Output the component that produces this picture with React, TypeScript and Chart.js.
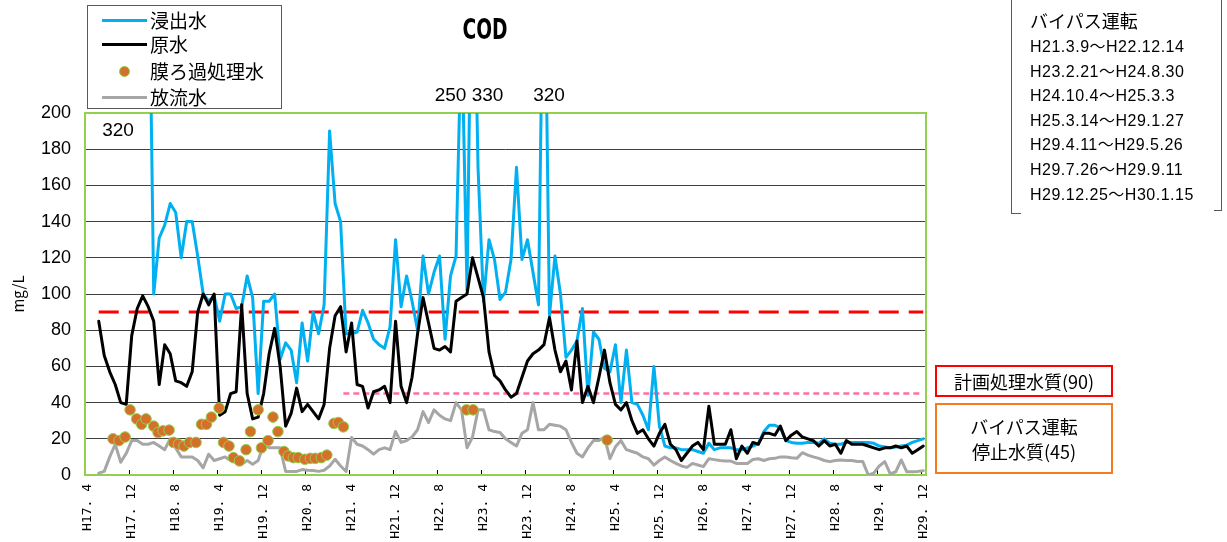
import React, { useEffect, useRef } from "react";
import { Chart, registerables } from "chart.js";

Chart.register(...registerables);

// ---------------- data ----------------
// x tick labels (one every 8 months, monthly axis from H17.4 to H29.12)
const tickLabels = [
  "H17. 4", "H17. 12", "H18. 8", "H19. 4", "H19. 12", "H20. 8", "H21. 4",
  "H21. 12", "H22. 8", "H23. 4", "H23. 12", "H24. 8", "H25. 4", "H25. 12",
  "H26. 8", "H27. 4", "H27. 12", "H28. 8", "H29. 4", "H29. 12",
];
const LABEL_STEP = 8;

// 浸出水 (monthly, index 0 = H17.4)
const leachate: (number | null)[] = [
  null, null, null, null, null, null, null, null, null, null,
  null, 320, 100, 131, 138, 150, 145, 120, 140, 140,
  121, 100, 96, 99, 85, 100, 100, 92, 93, 110,
  98, 45, 96, 96, 100, 64, 73, 69, 51, 84,
  63, 90, 78, 94, 190, 150, 140, 78, 78, 79,
  91, 84, 75, 72, 70, 82, 130, 93, 110, 96,
  80, 121, 100, 112, 121, 75, 110, 121, 250, 102,
  330, 170, 96, 130, 119, 97, 101, 119, 170, 119,
  130, 112, 94, 320, 88, 121, 100, 65, 69, 74,
  92, 44, 79, 75, 59, 57, 72, 40, 69, 40,
  39, 33, 25, 60, 27, 16, 15, 15, 14, 14,
  14, 13, 12, 17.5, 14, 15, 15, 15, 14, 14,
  15, 16, 17.5, 24, 27.5, 27.5, 26, 19, 18, 17.5,
  17.5, 18, 18, 17.5, 20, 17.5, 17, 17, 18, 18,
  18, 18, 18, 17.5, 16, 15.5, 15, 15.5, 16, 16.5,
  18, 19, 20,
];

// 原水
const raw: (number | null)[] = [
  null, null, 85, 66, 57, 50, 40, 39, 77, 92,
  99, 93, 85, 50, 72, 67, 52, 51, 49, 57,
  90, 100, 94, 100, 33, 35, 45, 46, 94, 45,
  31, 32, 45, 67, 81, 60, 27, 34, 48, 35,
  39, 35, 31, 39, 70, 88, 93, 68, 84, 50,
  49, 37, 46, 47, 49, 40, 85, 49, 40, 54,
  78, 98, 84, 70, 69, 71, 68, 96, 98, 100,
  120, 109, 98, 68, 55, 52, 47, 43, 45, 54,
  63, 67, 69, 72, 87, 69, 57, 63, 47, 74,
  40, 49, 40, 54, 69, 51, 39, 36, 40, 30,
  23, 25, 20, 16, 23, 28, 17, 14, 8, 12,
  16, 18, 14, 38, 17, 17, 17, 25, 9, 16,
  12, 18, 17, 23, 23, 22, 27, 19, 22, 24,
  21, 20, 19, 16, 19, 16, 17, 12, 19, 17,
  17, 17, 16, 15, 14, 15, 15, 16, 15, 16,
  12, 14, 16,
];

// 放流水
const discharge: (number | null)[] = [
  null, null, 1, 2, 10, 17, 7, 12, 19, 19,
  17, 17, 18, 16, 14, 20, 15, 10, 10, 10,
  8, 4, 11.5, 8, 9, 10, 8, 7, 6, 8,
  6, 8, 17, 15, 15, 15, 2, 2, 2, 3,
  2.6, 2.5, 2, 2.6, 5, 8.7, 5, 2, 20.7, 17,
  16, 14, 11.5, 14, 15, 14, 24, 18, 19, 21,
  25, 35, 29, 36, 33, 31, 30, 40, 36, 15,
  21, 36, 36, 25, 24, 23.5, 20, 18, 16, 23,
  25, 40, 25, 25, 28, 27.5, 27, 25, 18, 12,
  10, 15, 19, 19, 21, 9, 15.6, 19, 14, 13,
  12, 10, 9, 5.5, 8, 10, 8, 6.4, 5, 4.2,
  6.4, 5.5, 4.6, 9, 8.5, 8, 7.8, 7.7, 6.4, 6.4,
  6.4, 8.6, 9, 8, 9, 9.2, 10, 10, 9.5, 9.2,
  12.3, 11, 10, 9.2, 8, 7.4, 8, 8.3, 8, 8,
  7.5, 7.4, 0, 1, 5, 7.4, 0.6, 1.8, 8.3, 1.8,
  1.8, 2, 2.4,
];

// 膜ろ過処理水 (sampled points: month position and value)
const membraneMonth = [
  4.6, 5.7, 6.8, 7.7, 8.9, 9.8, 10.6, 12.0, 12.8, 13.7,
  14.8, 15.6, 16.5, 17.5, 18.5, 19.7, 20.7, 21.6, 22.5, 23.9,
  24.7, 25.7, 26.5, 27.6, 28.8, 29.6, 31.0, 31.6, 32.8, 33.7,
  34.6, 35.7, 36.5, 37.4, 38.3, 39.5, 40.5, 41.4, 42.5, 43.5,
  44.8, 45.6, 46.5, 68.9, 70.1, 94.5,
];
const membraneValue = [
  20, 19, 21, 36, 31, 28, 31, 27, 23.5, 24.4,
  24.8, 18, 17, 16, 18, 18, 28, 28, 32, 37,
  18, 16, 9.6, 7.8, 14, 24, 36, 15, 19, 32,
  24, 13, 10.5, 9.6, 9.6, 8.7, 9.2, 9.2, 9.6, 11,
  28.5, 29, 26.6, 36, 36, 19.3,
];

// reference levels
const planQualityLevel = 90; // 計画処理水質
const planQualitySpan = [2, 152];
const bypassStopLevel = 45; // バイパス運転停止水質
const bypassStopSpan = [46.5, 152];

// clipped peak values
const clippedPeakLeft = "320";
const clippedPeakMid = "250 330";
const clippedPeakRight = "320";

const bypassPeriods = [
  "H21.3.9～H22.12.14",
  "H23.2.21～H24.8.30",
  "H24.10.4～H25.3.3",
  "H25.3.14～H29.1.27",
  "H29.4.11～H29.5.26",
  "H29.7.26～H29.9.11",
  "H29.12.25～H30.1.15",
];

// ---------------- colours ----------------
const BLUE = "#00B0F0";
const BLACK = "#000000";
const GRAY = "#A6A6A6";
const DOT = "#D4702A";
const DOT_EDGE = "#92D050";
const FRAME = "#92D050";

const JP = "'Noto Sans CJK JP', 'Noto Sans', sans-serif";
const LAT = "'Liberation Sans', 'Noto Sans CJK JP', sans-serif";

const framePlugin = {
  id: "frame",
  beforeDatasetsDraw(chart: any) {
    const { ctx, chartArea: a, scales } = chart;
    const x = scales.x;
    ctx.save();
    ctx.strokeStyle = "#000";
    ctx.lineWidth = 1;
    for (let k = 1; k < tickLabels.length; k++) {
      const px = Math.round(x.getPixelForValue(k * LABEL_STEP - 0.5)) + 0.5;
      ctx.beginPath();
      ctx.moveTo(px, a.bottom);
      ctx.lineTo(px, a.bottom - 5);
      ctx.stroke();
    }
    ctx.strokeStyle = FRAME;
    ctx.lineWidth = 2;
    ctx.strokeRect(a.left, a.top, a.right - a.left, a.bottom - a.top);
    ctx.restore();
  },
};

function Abs(props: { style: React.CSSProperties; children?: React.ReactNode }) {
  return <div style={{ position: "absolute", whiteSpace: "nowrap", ...props.style }}>{props.children}</div>;
}

export default function App() {
  const canvasRef = useRef<HTMLCanvasElement | null>(null);

  useEffect(() => {
    const canvas = canvasRef.current;
    if (!canvas) return;
    const pts = (arr: (number | null)[]) => arr.map((v, i) => ({ x: i, y: v }));
    const lineCommon = {
      pointRadius: 0,
      pointHoverRadius: 0,
      borderJoinStyle: "round" as const,
      borderCapStyle: "round" as const,
      tension: 0,
      fill: false,
    };
    const chart = new Chart(canvas, {
      type: "line",
      data: {
        datasets: [
          {
            label: "膜ろ過処理水",
            data: membraneMonth.map((m, i) => ({ x: m, y: membraneValue[i] })),
            showLine: false,
            pointRadius: 5.3,
            pointHoverRadius: 5.3,
            pointBackgroundColor: DOT,
            pointBorderColor: DOT_EDGE,
            pointBorderWidth: 1,
            borderColor: DOT,
            backgroundColor: DOT,
          },
          { label: "原水", data: pts(raw), borderColor: BLACK, borderWidth: 3, ...lineCommon },
          { label: "浸出水", data: pts(leachate), borderColor: BLUE, borderWidth: 3, ...lineCommon },
          { label: "放流水", data: pts(discharge), borderColor: GRAY, borderWidth: 3, ...lineCommon },
          {
            label: "バイパス運転停止水質",
            data: bypassStopSpan.map((m) => ({ x: m, y: bypassStopLevel })),
            borderColor: "#FF6FA0",
            borderWidth: 2.5,
            borderDash: [6, 4],
            ...lineCommon,
            borderCapStyle: "butt" as const,
          },
          {
            label: "計画処理水質",
            data: planQualitySpan.map((m) => ({ x: m, y: planQualityLevel })),
            borderColor: "#FF0000",
            borderWidth: 3,
            borderDash: [20, 10],
            ...lineCommon,
            borderCapStyle: "butt" as const,
          },
        ],
      },
      options: {
        responsive: true,
        maintainAspectRatio: false,
        animation: false,
        events: [],
        layout: { padding: { top: 113, right: 301, bottom: 0, left: 0 } },
        plugins: {
          legend: { display: false },
          title: { display: false },
          tooltip: { enabled: false },
        },
        scales: {
          x: {
            type: "linear",
            min: -0.5,
            max: leachate.length - 0.5,
            afterFit: (s: any) => {
              s.height = 67;
            },
            afterBuildTicks: (s: any) => {
              s.ticks = tickLabels.map((_, k) => ({ value: k * LABEL_STEP }));
            },
            grid: { display: false, drawTicks: false },
            border: { display: false },
            ticks: {
              autoSkip: false,
              maxRotation: 90,
              minRotation: 90,
              padding: 9,
              color: "#000",
              font: { family: "'DejaVu Sans Mono', 'Liberation Mono', monospace", size: 13 },
              callback: (v: any) => tickLabels[Math.round(Number(v) / LABEL_STEP)] ?? "",
            },
          },
          y: {
            min: 0,
            max: 200,
            afterFit: (s: any) => {
              s.width = 85;
            },
            ticks: {
              stepSize: 20,
              padding: 14,
              color: "#000",
              font: { family: LAT, size: 18 },
            },
            grid: {
              drawTicks: false,
              lineWidth: 1,
              color: (c: any) =>
                c.tick && (c.tick.value === 0 || c.tick.value === 200) ? "rgba(0,0,0,0)" : "#404040",
            },
            border: { display: false },
            title: {
              display: true,
              text: "mg/L",
              color: "#000",
              font: { family: JP, size: 15 },
              padding: { top: 9, bottom: 0 },
            },
          },
        },
      },
      plugins: [framePlugin],
    } as any);
    return () => chart.destroy();
  }, []);

  const legendRows: { label: string; kind: "line" | "dot"; color: string; cy: number }[] = [
    { label: "浸出水", kind: "line", color: BLUE, cy: 19 },
    { label: "原水", kind: "line", color: BLACK, cy: 43 },
    { label: "膜ろ過処理水", kind: "dot", color: DOT, cy: 70 },
    { label: "放流水", kind: "line", color: GRAY, cy: 96 },
  ];

  return (
    <div
      style={{
        position: "absolute",
        left: 0,
        top: 0,
        width: 1227,
        height: 542,
        background: "#fff",
        overflow: "hidden",
        fontFamily: JP,
        color: "#000",
      }}
    >
      <div style={{ position: "absolute", left: 0, top: 0, width: 1227, height: 542 }}>
        <canvas ref={canvasRef} />
      </div>

      {/* title */}
      <Abs
        style={{
          left: 435,
          top: 15,
          width: 100,
          textAlign: "center",
          fontFamily: "'Liberation Sans Narrow', 'DejaVu Sans Condensed', sans-serif",
          fontWeight: 700,
          fontSize: 28,
          lineHeight: "30px",
          transform: "scaleX(0.74)",
          transformOrigin: "50% 50%",
        }}
      >
        COD
      </Abs>

      {/* legend */}
      <div
        style={{
          position: "absolute",
          left: 87,
          top: 5,
          width: 193,
          height: 102,
          border: "1px solid #595959",
          background: "#fff",
        }}
      >
        {legendRows.map((r) => (
          <React.Fragment key={r.label}>
            {r.kind === "line" ? (
              <div
                style={{
                  position: "absolute",
                  left: 14,
                  top: r.cy - 5 - 1.5,
                  width: 45,
                  height: 3,
                  background: r.color,
                }}
              />
            ) : (
              <div
                style={{
                  position: "absolute",
                  left: 37 - 5.5 - 1,
                  top: r.cy - 5 - 5.5,
                  width: 11,
                  height: 11,
                  borderRadius: "50%",
                  background: r.color,
                  border: `1px solid ${DOT_EDGE}`,
                  boxSizing: "border-box",
                }}
              />
            )}
            <Abs style={{ left: 62, top: r.cy - 5 - 13, fontSize: 19, lineHeight: "26px" }}>{r.label}</Abs>
          </React.Fragment>
        ))}
      </div>

      {/* clipped peak annotations */}
      <Abs style={{ left: 88, top: 119, width: 60, textAlign: "center", fontFamily: LAT, fontSize: 19, lineHeight: "22px" }}>
        {clippedPeakLeft}
      </Abs>
      <Abs style={{ left: 419, top: 84, width: 100, textAlign: "center", fontFamily: LAT, fontSize: 19, lineHeight: "22px" }}>
        {clippedPeakMid}
      </Abs>
      <Abs style={{ left: 519, top: 84, width: 60, textAlign: "center", fontFamily: LAT, fontSize: 19, lineHeight: "22px" }}>
        {clippedPeakRight}
      </Abs>

      {/* bypass period bracket */}
      <div style={{ position: "absolute", left: 1011, top: -2, width: 1, height: 215, background: "#595959" }} />
      <div style={{ position: "absolute", left: 1011, top: 213, width: 10, height: 1, background: "#595959" }} />
      <div style={{ position: "absolute", left: 1221, top: -2, width: 1, height: 213, background: "#595959" }} />
      <div style={{ position: "absolute", left: 1214, top: 210, width: 8, height: 1, background: "#595959" }} />
      <Abs style={{ left: 1030, top: 20 - 13, fontSize: 18, lineHeight: "26px" }}>バイパス運転</Abs>
      {bypassPeriods.map((p, i) => (
        <Abs
          key={p}
          style={{
            left: 1030,
            top: 47 + i * 24.6 - 12,
            fontFamily: LAT,
            fontSize: 16,
            letterSpacing: 0.5,
            lineHeight: "24px",
          }}
        >
          {p}
        </Abs>
      ))}

      {/* level boxes */}
      <div
        style={{
          position: "absolute",
          left: 935,
          top: 365,
          width: 178,
          height: 32,
          borderWidth: 2,
          borderStyle: "solid",
          borderColor: "#FF0000",
          boxSizing: "border-box",
          textAlign: "center",
          fontSize: 18,
          lineHeight: "28px",
        }}
      >
        計画処理水質(90)
      </div>
      <div
        style={{
          position: "absolute",
          left: 935,
          top: 403,
          width: 178,
          height: 71,
          borderWidth: 2,
          borderStyle: "solid",
          borderColor: "#F47B20",
          boxSizing: "border-box",
          textAlign: "center",
          fontSize: 18,
          lineHeight: "25px",
          paddingTop: 9,
        }}
      >
        バイパス運転
        <br />
        停止水質(45)
      </div>
    </div>
  );
}
